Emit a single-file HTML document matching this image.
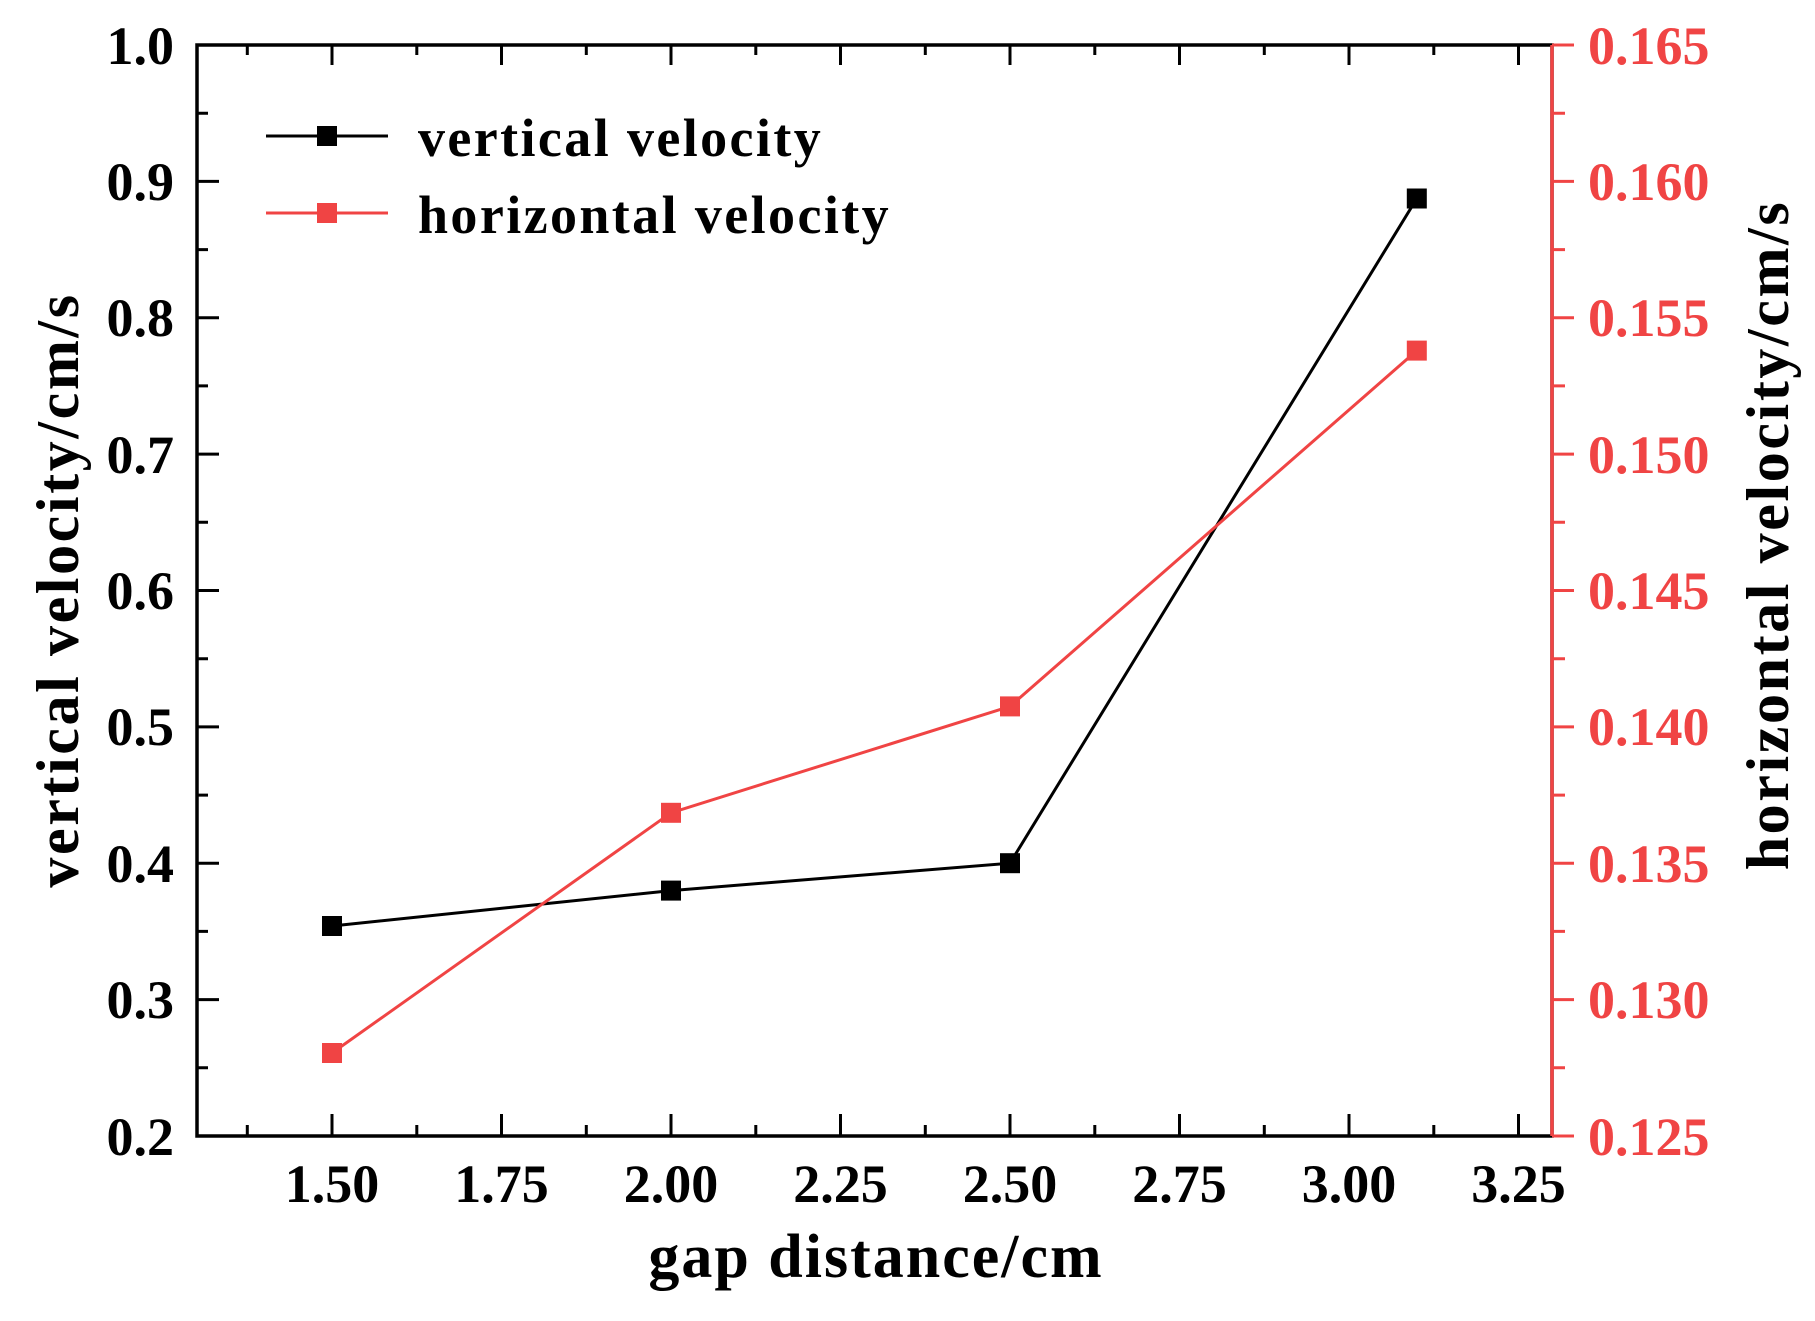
<!DOCTYPE html>
<html><head><meta charset="utf-8"><style>html,body{margin:0;padding:0;background:#fff}svg{display:block}</style></head>
<body>
<svg width="1815" height="1321" viewBox="0 0 1815 1321" xmlns="http://www.w3.org/2000/svg" font-family="Liberation Serif, serif" font-weight="bold">
<rect x="197" y="45" width="1355" height="1091" fill="none" stroke="#000" stroke-width="3.5"/>
<line x1="1552" y1="45" x2="1552" y2="1136" stroke="#f04444" stroke-width="3.5"/>
<g stroke="#000" stroke-width="3">
<path d="M197 45h22M197 181.4h22M197 317.7h22M197 454.1h22M197 590.5h22M197 726.9h22M197 863.2h22M197 999.6h22M197 1136h22
M197 113.2h11M197 249.6h11M197 385.9h11M197 522.3h11M197 658.7h11M197 795.1h11M197 931.4h11M197 1067.8h11"/>
<path d="M332 1136v-22M501.5 1136v-22M671 1136v-22M840.5 1136v-22M1010 1136v-22M1179.5 1136v-22M1349 1136v-22M1518.5 1136v-22
M247.3 1136v-11M416.8 1136v-11M586.3 1136v-11M755.8 1136v-11M925.3 1136v-11M1094.8 1136v-11M1264.3 1136v-11M1433.8 1136v-11"/>
<path d="M332 45v20M501.5 45v20M671 45v20M840.5 45v20M1010 45v20M1179.5 45v20M1349 45v20M1518.5 45v20
M247.3 45v10M416.8 45v10M586.3 45v10M755.8 45v10M925.3 45v10M1094.8 45v10M1264.3 45v10M1433.8 45v10"/>
</g>
<g stroke="#f04444" stroke-width="3">
<path d="M1552 45h22M1552 181.4h22M1552 317.7h22M1552 454.1h22M1552 590.5h22M1552 726.9h22M1552 863.2h22M1552 999.6h22M1552 1136h22
M1552 113.2h13M1552 249.6h13M1552 385.9h13M1552 522.3h13M1552 658.7h13M1552 795.1h13M1552 931.4h13M1552 1067.8h13"/>
</g>
<g font-size="54" text-anchor="end" fill="#000">
<text x="174" y="64">1.0</text><text x="174" y="200">0.9</text><text x="174" y="336">0.8</text><text x="174" y="473">0.7</text>
<text x="174" y="609">0.6</text><text x="174" y="745">0.5</text><text x="174" y="882">0.4</text><text x="174" y="1018">0.3</text><text x="174" y="1155">0.2</text>
</g>
<g font-size="54" text-anchor="start" fill="#f04444">
<text x="1588" y="64">0.165</text><text x="1588" y="200">0.160</text><text x="1588" y="336">0.155</text><text x="1588" y="473">0.150</text>
<text x="1588" y="609">0.145</text><text x="1588" y="745">0.140</text><text x="1588" y="882">0.135</text><text x="1588" y="1018">0.130</text><text x="1588" y="1155">0.125</text>
</g>
<g font-size="54" text-anchor="middle" fill="#000">
<text x="332" y="1202">1.50</text><text x="501.5" y="1202">1.75</text><text x="671" y="1202">2.00</text><text x="840.5" y="1202">2.25</text>
<text x="1010" y="1202">2.50</text><text x="1179.5" y="1202">2.75</text><text x="1349" y="1202">3.00</text><text x="1518.5" y="1202">3.25</text>
</g>
<text x="876" y="1277" font-size="62" text-anchor="middle" letter-spacing="2">gap distance/cm</text>
<text transform="translate(78 590) rotate(-90)" font-size="60" text-anchor="middle" letter-spacing="2.6">vertical velocity/cm/s</text>
<text transform="translate(1788 535) rotate(-90)" font-size="60" text-anchor="middle" letter-spacing="2.6">horizontal velocity/cm/s</text>
<polyline points="332,926 671,890.6 1010,863.2 1416.8,198.5" fill="none" stroke="#000" stroke-width="3"/>
<polyline points="332,1053 671,812.8 1010,706.4 1416.8,350.6" fill="none" stroke="#f04444" stroke-width="3"/>
<g fill="#000"><rect x="322" y="916" width="20" height="20"/><rect x="661" y="880.6" width="20" height="20"/><rect x="1000" y="853.2" width="20" height="20"/><rect x="1406.8" y="188.5" width="20" height="20"/></g>
<g fill="#f04444"><rect x="322" y="1043" width="20" height="20"/><rect x="661" y="802.8" width="20" height="20"/><rect x="1000" y="696.4" width="20" height="20"/><rect x="1406.8" y="340.6" width="20" height="20"/></g>
<line x1="266" y1="136" x2="388" y2="136" stroke="#000" stroke-width="3"/><rect x="317" y="126" width="20" height="20" fill="#000"/>
<text x="418" y="156" font-size="54" letter-spacing="2.4">vertical velocity</text>
<line x1="266" y1="213" x2="388" y2="213" stroke="#f04444" stroke-width="3"/><rect x="317" y="203" width="20" height="20" fill="#f04444"/>
<text x="418" y="233" font-size="54" letter-spacing="2.4">horizontal velocity</text>
</svg>
</body></html>
